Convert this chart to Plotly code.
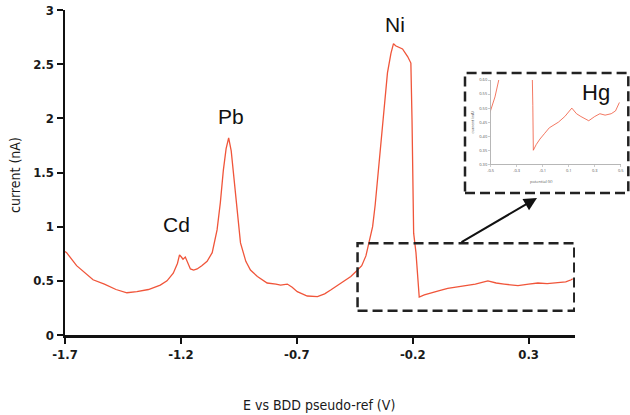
import plotly.graph_objects as go

# ---- data ----
potential_V = [-1.70, -1.693, -1.65, -1.60, -1.579, -1.53, -1.48, -1.433, -1.39, -1.34,
               -1.289, -1.26, -1.233, -1.215, -1.206, -1.198, -1.191, -1.181, -1.17, -1.159,
               -1.145, -1.130, -1.11, -1.087, -1.065, -1.044, -1.03, -1.017, -1.005, -0.994,
               -0.983, -0.972, -0.958, -0.943, -0.92, -0.900, -0.87, -0.828, -0.79, -0.770,
               -0.741, -0.72, -0.698, -0.676, -0.655, -0.611, -0.58, -0.554, -0.511, -0.482,
               -0.467, -0.438, -0.420, -0.402, -0.381, -0.373, -0.362, -0.352, -0.330, -0.309,
               -0.294, -0.283, -0.274, -0.265, -0.244, -0.222, -0.208, -0.203, -0.200, -0.196,
               -0.186, -0.176, -0.172, -0.150, -0.121, -0.085, -0.049, 0.021, 0.07, 0.124,
               0.16, 0.194, 0.254, 0.30, 0.340, 0.38, 0.427, 0.46, 0.484, 0.49]
current_nA = [0.77, 0.76, 0.64, 0.55, 0.51, 0.47, 0.42, 0.39, 0.40, 0.42,
              0.46, 0.50, 0.57, 0.66, 0.74, 0.72, 0.70, 0.72, 0.66, 0.61,
              0.60, 0.61, 0.64, 0.68, 0.76, 0.97, 1.22, 1.52, 1.72, 1.82,
              1.70, 1.46, 1.12, 0.85, 0.68, 0.60, 0.54, 0.48, 0.47, 0.46,
              0.47, 0.44, 0.40, 0.38, 0.36, 0.355, 0.38, 0.415, 0.48, 0.52,
              0.54, 0.60, 0.64, 0.73, 0.91, 1.00, 1.20, 1.43, 1.89, 2.42,
              2.60, 2.69, 2.67, 2.66, 2.64, 2.57, 2.51, 1.98, 1.37, 0.94,
              0.76, 0.51, 0.35, 0.37, 0.39, 0.41, 0.43, 0.45, 0.47, 0.50,
              0.48, 0.47, 0.455, 0.47, 0.48, 0.475, 0.48, 0.49, 0.51, 0.52]

x_ticks = [-1.7, -1.2, -0.7, -0.2, 0.3]
y_ticks = [0, 0.5, 1, 1.5, 2, 2.5, 3]
inset_x_ticks = [-0.5, -0.3, -0.1, 0.1, 0.3, 0.5]
inset_y_ticks = [0.30, 0.35, 0.40, 0.45, 0.50, 0.55, 0.60]

peak_labels = ["Cd", "Pb", "Ni"]
peak_x = [-1.22, -0.986, -0.277]
peak_y = [1.02, 2.02, 2.87]

LINE = "#f0553a"
COND = "DejaVu Sans Condensed, Liberation Sans Narrow, Liberation Sans, Arial"
TICKFONT = dict(family=COND, size=13, color="#1a1a1a", weight="bold")

fig = go.Figure()
fig.add_trace(go.Scatter(x=potential_V, y=current_nA, mode="lines",
                         line=dict(color=LINE, width=1.3), xaxis="x", yaxis="y",
                         showlegend=False, hoverinfo="skip"))
fig.add_trace(go.Scatter(x=potential_V, y=current_nA, mode="lines",
                         line=dict(color=LINE, width=0.8), xaxis="x2", yaxis="y2",
                         showlegend=False, hoverinfo="skip"))

W_MAIN = 510 / 565

fig.update_layout(
    width=630, height=415,
    margin=dict(l=65, r=0, t=10, b=80, autoexpand=False),
    paper_bgcolor="white", plot_bgcolor="white",
    xaxis=dict(domain=[0, W_MAIN], range=[-1.7, 0.5], tickvals=x_ticks,
               ticktext=[f"{v:g}" for v in x_ticks], automargin=False,
               showgrid=False, zeroline=False, showline=True, linecolor="#111", linewidth=2.5,
               ticks="outside", ticklen=6, tickwidth=2, tickcolor="#111",
               tickfont=TICKFONT, anchor="y"),
    yaxis=dict(domain=[0, 1], range=[0, 3], tickvals=y_ticks,
               ticktext=[f"{v:g}" for v in y_ticks], automargin=False,
               showgrid=False, zeroline=False, showline=True, linecolor="#111", linewidth=2.5,
               ticks="outside", ticklen=6, tickwidth=2, tickcolor="#111",
               tickfont=TICKFONT, anchor="x"),
    xaxis2=dict(domain=[(490.7 - 65) / 565, (620.7 - 65) / 565], range=[-0.5, 0.5],
                tickvals=inset_x_ticks, ticktext=[f"{v:.1f}" for v in inset_x_ticks],
                automargin=False,
                showgrid=False, zeroline=False, showline=True, linecolor="#999", linewidth=0.7,
                ticks="outside", ticklen=2, tickwidth=0.5, tickcolor="#999",
                tickfont=dict(size=4, color="#555"), anchor="y2"),
    yaxis2=dict(domain=[(335 - 164.3) / 325, (335 - 80) / 325], range=[0.30, 0.60],
                tickvals=inset_y_ticks, ticktext=[f"{v:.2f}" for v in inset_y_ticks],
                automargin=False,
                showgrid=False, zeroline=False, showline=True, linecolor="#999", linewidth=0.7,
                ticks="outside", ticklen=2, tickwidth=0.5, tickcolor="#999",
                tickfont=dict(size=4, color="#555"), anchor="x2"),
)

# axis titles
fig.add_annotation(text="E vs BDD pseudo-ref (V)", xref="paper", yref="paper",
                   x=(319 - 65) / 565, y=(335 - 405) / 325, showarrow=False,
                   xanchor="center", yanchor="middle",
                   font=dict(family=COND, size=14, color="#1a1a1a"))
fig.add_annotation(text="current (nA)", xref="paper", yref="paper",
                   x=(15 - 65) / 565, y=(335 - 175) / 325, showarrow=False, textangle=-90,
                   xanchor="center", yanchor="middle",
                   font=dict(family=COND, size=14, color="#1a1a1a"))
# inset axis titles
fig.add_annotation(text="potential (V)", xref="paper", yref="paper",
                   x=(555 - 65) / 565, y=(335 - 182) / 325, showarrow=False,
                   font=dict(size=4, color="#555"))
fig.add_annotation(text="current (nA)", xref="paper", yref="paper",
                   x=(476 - 65) / 565, y=(335 - 122) / 325, showarrow=False, textangle=-90,
                   font=dict(size=4, color="#555"))

# peak labels
for t, px, py in zip(peak_labels, peak_x, peak_y):
    fig.add_annotation(text=t, x=px, y=py, xref="x", yref="y", showarrow=False,
                       xanchor="center", yanchor="middle",
                       font=dict(family="Liberation Sans, Arial", size=21, color="#111"))
fig.add_annotation(text="Hg", xref="paper", yref="paper", x=(595.5 - 65) / 565, y=(335 - 92) / 325,
                   showarrow=False, xanchor="center", yanchor="middle",
                   font=dict(family="Liberation Sans, Arial", size=22, color="#111"))

# dashed boxes
fig.add_shape(type="rect", xref="x", yref="y", x0=-0.438, x1=0.497, y0=0.224, y1=0.847,
              line=dict(color="#222", width=2.5, dash="10px,5px"))
fig.add_shape(type="rect", xref="paper", yref="paper",
              x0=(465 - 65) / 565, x1=(628.3 - 65) / 565, y0=(335 - 193) / 325, y1=(335 - 73) / 325,
              line=dict(color="#222", width=2.5, dash="10px,5px"))

# arrow
fig.add_annotation(text="", xref="paper", yref="paper", x=(537 - 65) / 565, y=(335 - 198) / 325,
                   ax=-77, ay=45, showarrow=True, arrowhead=2, arrowsize=1.3,
                   arrowwidth=2, arrowcolor="#111")

fig.write_html("out.html",
               config={"displayModeBar": False, "staticPlot": True},
               post_script="document.body.style.margin='0';document.body.style.padding='0';"
                           "document.body.style.overflow='hidden';")
